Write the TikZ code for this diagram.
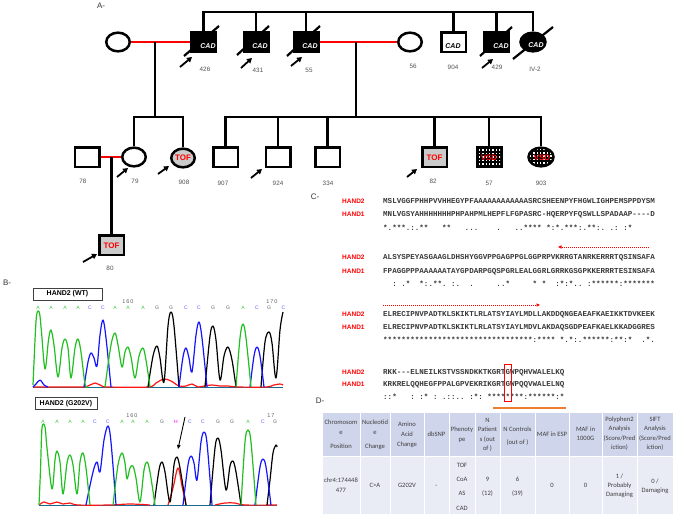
\documentclass[tikz,border=0pt]{standalone}
\usepackage{fontspec}
\setmainfont{Liberation Sans}
\newfontfamily\seqfont{Liberation Mono}
\newfontfamily\tabfont{Carlito}
\usetikzlibrary{shapes.geometric,arrows.meta,calc}
\definecolor{numgray}{HTML}{505050}
\definecolor{stipple}{HTML}{CBCBCB}
\definecolor{trG}{HTML}{20C020}
\definecolor{trB}{HTML}{1414FF}
\definecolor{trR}{HTML}{FF1414}
\definecolor{lA}{HTML}{3CC83C}
\definecolor{lC}{HTML}{5A5AFF}
\definecolor{lG}{HTML}{606060}
\definecolor{lH}{HTML}{FF00FF}
\definecolor{tabhead}{HTML}{CFD5EA}
\definecolor{tabbody}{HTML}{E9EBF5}
\definecolor{tabtext}{HTML}{404040}
\definecolor{orangebar}{HTML}{ED7D31}
\definecolor{seqtext}{HTML}{3A3A3A}
\begin{document}
\begin{tikzpicture}[x=1pt,y=-1pt,
  ped/.style={line width=2.5pt,draw=black},
  redline/.style={line width=2.5pt,draw=red},
  ind/.style={draw=black,line width=2.5pt,inner sep=0pt,fill=white},
  male/.style={ind,rectangle,minimum width=24.5pt,minimum height=19.5pt},
  female/.style={ind,ellipse,minimum width=23.5pt,minimum height=18.7pt},
  affected/.style={fill=black},
  tofill/.style={fill=stipple},
  numlab/.style={font=\fontsize{6.3}{7}\selectfont,text=numgray,inner sep=0pt},
  cadw/.style={font=\fontsize{7}{8}\selectfont\bfseries\itshape,text=white,inner sep=0pt},
  cadb/.style={cadw,text=black},
  redtxt/.style={font=\fontsize{8}{9}\selectfont\bfseries,text=red,inner sep=0pt},
  proband/.style={line width=1.8pt,-{Triangle[length=5pt,width=5.5pt]}},
  slash/.style={line width=2.2pt},
  panel/.style={font=\fontsize{8}{9}\selectfont,text=black!80,inner sep=0pt},
  trace/.style={line width=1.2pt,line join=round},
  baselet/.style={font=\fontsize{5}{6}\selectfont,inner sep=0pt},
  posnum/.style={font=\fontsize{5.5}{6}\selectfont,text=lG,inner sep=0pt},
  seqbox/.style={draw=black!75,line width=0.6pt,font=\fontsize{7}{8}\selectfont\bfseries,inner sep=0pt},
  hlab/.style={font=\fontsize{6.5}{7}\selectfont\bfseries,text=red,anchor=base west,inner sep=0pt},
  seq/.style={font=\seqfont\bfseries\fontsize{7.55}{9}\selectfont,text=seqtext,anchor=base west,inner sep=0pt},
  redarrow/.style={draw=red,line width=0.7pt,dash pattern=on 1.2pt off 0.8pt,-{Triangle[length=3.5pt,width=3.2pt]}},
  tt/.style={font=\tabfont\fontsize{6.6}{7}\selectfont,text=tabtext,inner sep=0pt,anchor=base}
]
\useasboundingbox (0,0) rectangle (675,517);
\fill[white] (0,0) rectangle (675,517);

% ---------------- panel letters
\node[panel] (lblA) at (101,6) {A-};
\node[panel] (lblB) at (7,283) {B-};
\node[panel] (lblC) at (315,197) {C-};
\node[panel] (lblD) at (320,401) {D-};

% ---------------- pedigree: individuals
\node[female] (f1) at (118,42) {};
\node[male,affected] (p426) at (203.5,42) {};
\node[male,affected] (p431) at (256,42) {};
\node[male,affected] (p55) at (306,42) {};
\node[female] (p56) at (410,42) {};
\node[male] (p904) at (453.5,42) {};
\node[male,affected] (p429) at (496.5,42) {};
\node[female,affected,minimum width=25pt] (pIV2) at (533,42) {};

\node[male] (p78) at (87,157) {};
\node[female] (p79) at (134,157) {};
\node[female,tofill] (p908) at (183,158) {};
\node[male] (p907) at (225.5,157) {};
\node[male] (p924) at (278,157) {};
\node[male] (p334) at (327.5,157) {};
\node[male,tofill] (p82) at (434.5,157) {};
\node[male,affected] (p57) at (489,157) {};
\node[female,affected,minimum width=25pt] (p903) at (541,157) {};
\node[male,tofill] (p80) at (111.5,245) {};

% VSD dots
\begin{scope}
\clip ($(p57.center)+(-11,-8.5)$) rectangle ($(p57.center)+(11,8.5)$);
\foreach \i in {0,...,6} \foreach \j in {0,...,4}
  \fill[white] ($(p57.center)+(-10.3+\i*3.4,-7.6+\j*3.4)$) rectangle +(1.5,1.5);
\end{scope}
\begin{scope}
\clip (p903.center) ellipse [x radius=11.2pt, y radius=8.1pt];
\foreach \i in {0,...,7} \foreach \j in {0,...,5}
  \fill[white] ($(p903.center)+(-11.3+\i*3.4,-8.4+\j*3.4)$) rectangle +(1.5,1.5);
\end{scope}

% ---------------- pedigree: lines
\coordinate (sibA) at (0,12);
\coordinate (sibB) at (0,117);
\coordinate (mA) at (155,42);
\coordinate (mB) at (356,42);
\draw[ped] (p426.north) |- (pIV2.north |- sibA) -- (pIV2.north);
\foreach \n in {p431,p55,p904,p429} \draw[ped] (\n.north) -- (\n.north |- sibA);
\draw[redline] (f1.east) -- (p426.west);
\draw[redline] (p55.east) -- (p56.west);
\draw[ped] (mA) -- (mA |- sibB);
\draw[ped] (p79.north) |- (p908.north |- sibB) -- (p908.north);
\draw[ped] (mB) -- (mB |- sibB);
\draw[ped] (p907.north) |- (p903.north |- sibB) -- (p903.north);
\foreach \n in {p924,p334,p82,p57} \draw[ped] (\n.north) -- (\n.north |- sibB);
\draw[redline] (p78.east) -- (p79.west);
\draw[ped] (p80.north |- p78.east) -- (p80.north);

% deceased slashes
\draw[slash] ($(p426.center)+(-19.5,14)$) -- ($(p426.center)+(15.5,-16)$);
\draw[slash] ($(p431.center)+(-19,13)$) -- ($(p431.center)+(13,-16)$);
\draw[slash] ($(p55.center)+(-19,14)$) -- ($(p55.center)+(14,-16)$);
\draw[slash] ($(p429.center)+(-16.5,14)$) -- ($(p429.center)+(15.5,-15)$);
\draw[slash] ($(pIV2.center)+(-20,17)$) -- ($(pIV2.center)+(20,-15)$);

% texts inside symbols
\node[cadw] (c426) at (208,46.5) {CAD};
\node[cadw] (c431) at (260,46) {CAD};
\node[cadw] (c55) at (310,46) {CAD};
\node[cadb] (c904) at (453,46) {CAD};
\node[cadw] (c429) at (501,46) {CAD};
\node[cadw] (cIV2) at (536,45) {CAD};
\node[redtxt] (t908) at (183,158) {TOF};
\node[redtxt] (t80) at (111.5,246) {TOF};
\node[redtxt] (t82) at (434.5,158) {TOF};
\node[redtxt] (v57) at (489,158) {VSD};
\node[redtxt] (v903) at (542,158) {VSD};

% proband arrows
\draw[proband] ($(p426.center)+(-23.5,25)$) -- ($(p426.center)+(-11.5,15)$);
\draw[proband] ($(p431.center)+(-15,26)$) -- ($(p431.center)+(-4,16)$);
\draw[proband] ($(p55.center)+(-15,24)$) -- ($(p55.center)+(-4,15)$);
\draw[proband] ($(p429.center)+(-14.5,26)$) -- ($(p429.center)+(-3.5,17)$);
\draw[proband] ($(p79.center)+(-17,20)$) -- ($(p79.center)+(-6,11)$);
\draw[proband] ($(p908.center)+(-25,16)$) -- ($(p908.center)+(-14,8)$);
\draw[proband] ($(p924.center)+(-27,21)$) -- ($(p924.center)+(-16,12)$);
\draw[proband] ($(p82.center)+(-27.5,20)$) -- ($(p82.center)+(-17.5,12)$);
\draw[proband] ($(p80.center)+(-28.5,17)$) -- ($(p80.center)+(-14.5,9)$);

% ID numbers
\node[numlab] (n426) at (205,69) {426};
\node[numlab] (n431) at (258,70) {431};
\node[numlab] (n55) at (309,70) {55};
\node[numlab] (n56) at (413,66) {56};
\node[numlab] (n904) at (453,67) {904};
\node[numlab] (n429) at (497,67) {429};
\node[numlab] (nIV2) at (535,69) {IV-2};
\node[numlab] (n78) at (83,181) {78};
\node[numlab] (n79) at (135,181) {79};
\node[numlab] (n908) at (184,182) {908};
\node[numlab] (n907) at (223,183) {907};
\node[numlab] (n924) at (278,183) {924};
\node[numlab] (n334) at (328,183) {334};
\node[numlab] (n82) at (433,181) {82};
\node[numlab] (n57) at (489,183) {57};
\node[numlab] (n903) at (541,183) {903};
\node[numlab] (n80) at (110,268) {80};

% ---------------- panel B: WT chromatogram
\node[seqbox,minimum width=69pt,minimum height=12pt] (boxWT) at (67.5,294) {HAND2 (WT)};
\begin{scope}
\clip (30,298) rectangle (284.5,314);
\foreach \xx/\ll/\cc [count=\i] in {38/A/lA,51/A/lA,65/A/lA,78/A/lA,90/C/lC,103/C/lC,115/A/lA,128/A/lA,143/A/lA,157/G/lG,171/G/lG,186/C/lC,199/C/lC,213/G/lG,228/G/lG,243/A/lA,257/C/lC,269/G/lG,283.5/C/lC}
  \node[baselet,text=\cc] (wtl\i) at (\xx,308) {\ll};
\end{scope}
\node[posnum] (wt160) at (128,302) {1\,6\,0};
\node[posnum] (wt170) at (272,302) {1\,7\,0};
\draw[trB!50!trG,line width=0.8pt] (33,387) -- (283,387);
\draw[trace,trR] plot[smooth,tension=0.55] coordinates {(33,387) (80,387) (88,386) (95,383) (102,386) (108,387) (148,387) (156,383) (164,379) (171,381) (179,386) (186,386) (192,384) (198,387) (204,386) (212,385) (220,386) (228,386) (238,387) (266,387) (274,385) (280,384) (283,385)};
\draw[trace,black] plot[smooth,tension=0.55] coordinates {(148,387) (153,356) (157,346) (160,358) (164,382) (168,326) (171,312) (174,326) (179,387)};
\draw[trace,black] plot[smooth,tension=0.55] coordinates {(205,387) (210,336) (213,326) (216,340) (220,380) (224,356) (228,347) (232,360) (236,387)};
\draw[trace,black] plot[smooth,tension=0.55] coordinates {(261,387) (265,342) (269,332) (272,343) (276,378) (280,330) (283,312)};
\draw[trace,trB] plot[smooth,tension=0.55] coordinates {(33,387) (36,384) (40,380) (44,385) (48,387)};
\draw[trace,trB] plot[smooth,tension=0.55] coordinates {(84,387) (88,362) (91,353) (94,358) (97,366) (100,335) (103,320) (106,338) (111,387)};
\draw[trace,trB] plot[smooth,tension=0.55] coordinates {(179,387) (183,357) (186,348) (189,358) (192,372) (196,335) (199,322) (202,338) (207,387)};
\draw[trace,trB] plot[smooth,tension=0.55] coordinates {(250,387) (254,356) (257,347) (260,356) (264,387)};
\draw[trace,trG] plot[smooth,tension=0.55] coordinates {(33,385) (35.5,330) (37,313) (39.5,313) (41.5,332) (45,369) (48.5,340) (51,330) (54,345) (58,377) (62,348) (65,339) (68,348) (71,378) (75,348) (78,339) (81,352) (85,384) (88,387)};
\draw[trace,trG] plot[smooth,tension=0.55] coordinates {(105,387) (111,345) (115,333) (118,345) (122,367) (125,352) (128,347) (131,357) (135,378) (139,356) (143,348) (146,360) (150,387)};
\draw[trace,trG] plot[smooth,tension=0.55] coordinates {(236,387) (240,338) (243,324) (246,338) (251,387)};

% ---------------- panel B: mutant chromatogram
\node[seqbox,minimum width=62pt,minimum height=12.5pt] (boxMT) at (66,403.5) {HAND2 (G202V)};
\foreach \xx/\ll/\cc [count=\i] in {43/A/lA,57/A/lA,70/A/lA,83/A/lA,95/C/lC,108/C/lC,122/A/lA,133/A/lA,147/A/lA,162/G/lG,176/H/lH,190/C/lC,203/C/lC,218/G/lG,232/G/lG,248/A/lA,263/C/lC,275/G/lG}
  \node[baselet,text=\cc] (mtl\i) at (\xx,422) {\ll};
\node[posnum] (mt160) at (132,416) {1\,6\,0};
\node[posnum] (mt170) at (271,416) {1\,7};
\draw[trB!50!trG,line width=0.8pt] (39,505) -- (277,505);
\draw[trace,trR] plot[smooth,tension=0.55] coordinates {(39,505) (44,502) (50,504) (57,502) (63,504) (70,503) (78,505) (110,505) (130,504) (150,505)};
\draw[trace,trR] plot[smooth,tension=0.55] coordinates {(168,505) (173,488) (178,468) (182,486) (186,505)};
\draw[trace,trR] plot[smooth,tension=0.55] coordinates {(215,505) (225,503) (235,503) (245,505) (277,505)};
\draw[trace,black] plot[smooth,tension=0.55] coordinates {(154,505) (159,470) (162,462) (165,472) (170,502) (174,465) (177,457) (180,468) (186,505)};
\draw[trace,black] plot[smooth,tension=0.55] coordinates {(210,505) (215,448) (218,438) (221,450) (226,490) (230,466) (233,461) (236,472) (241,505)};
\draw[trace,black] plot[smooth,tension=0.55] coordinates {(267,505) (270,480) (273,453) (276,445) (277,447)};
\draw[trace,trB] plot[smooth,tension=0.55] coordinates {(86,505) (93,472) (97,462) (100,472) (104,440) (108,426) (111,442) (116,505)};
\draw[trace,trB] plot[smooth,tension=0.55] coordinates {(183,505) (188,465) (191,456) (194,463) (197,480) (201,442) (204,432) (207,443) (212,505)};
\draw[trace,trB] plot[smooth,tension=0.55] coordinates {(255,505) (260,467) (263,459) (266,467) (271,505)};
\draw[trace,trG] plot[smooth,tension=0.55] coordinates {(39,505) (40.5,470) (42,428) (45,427) (47,448) (52,489) (55,460) (57,451) (60,462) (63,494) (67,463) (70,455) (73,465) (77,494) (80,462) (83,453) (86,468) (90,505)};
\draw[trace,trG] plot[smooth,tension=0.55] coordinates {(113,505) (118,465) (122,453) (125,463) (127,479) (130,468) (133,466) (136,478) (140,502) (144,470) (147,462) (150,472) (155,505)};
\draw[trace,trG] plot[smooth,tension=0.55] coordinates {(241,505) (245,442) (248,430) (251,442) (256,505)};
\coordinate (mutA) at (185,417);
\coordinate (mutB) at (178,449);
\draw[line width=0.9pt,-{Triangle[length=4pt,width=3.5pt]}] (mutA) -- (mutB);

% ---------------- panel C: alignment
\node[hlab] (h2a) at (342,203.5) {HAND2};
\node[hlab] (h1a) at (342,216.5) {HAND1};
\node[seq] (s2a) at (383,203.5) {MSLVGGFPHHPVVHHEGYPFAAAAAAAAAAAASRCSHEENPYFHGWLIGHPEMSPPDYSM};
\node[seq] (s1a) at (383,216.5) {MNLVGSYAHHHHHHHPHPAHPMLHEPFLFGPASRC-HQERPYFQSWLLSPADAAP-\kern0pt-\kern0pt-\kern0pt-D};
\node[seq] (sca) at (383,230.5) {*.***.:.**~~~**~~~...~~~~.~~~..****~*:*.***:.**:.~.:~:*};

\coordinate (arA1) at (649,247);
\coordinate (arA2) at (558,247);
\draw[redarrow] (arA1) -- (arA2);
\node[hlab] (h2b) at (342,259.5) {HAND2};
\node[hlab] (h1b) at (342,273.5) {HAND1};
\node[seq] (s2b) at (383,259.5) {ALSYSPEYASGAAGLDHSHYGGVPPGAGPPGLGGPRPVKRRGTANRKERRRTQSINSAFA};
\node[seq] (s1b) at (383,273.5) {FPAGGPPPAAAAAATAYGPDARPGQSPGRLEALGGRLGRRKGSGPKKERRRTESINSAFA};
\node[seq] (scb) at (383,286.5) {~~:~.*~~*:.**.~:.~~.~~~~~..*~~~~~*~*~~:*:*..~:******:*******};

\coordinate (arB1) at (383,305);
\coordinate (arB2) at (540,305);
\draw[redarrow] (arB1) -- (arB2);
\node[hlab] (h2c) at (342,316.5) {HAND2};
\node[hlab] (h1c) at (342,329) {HAND1};
\node[seq] (s2c) at (383,316.5) {ELRECIPNVPADTKLSKIKTLRLATSYIAYLMDLLAKDDQNGEAEAFKAEIKKTDVKEEK};
\node[seq] (s1c) at (383,329) {ELRECIPNVPADTKLSKIKTLRLATSYIAYLMDVLAKDAQSGDPEAFKAELKKADGGRES};
\node[seq] (scc) at (383,342.5) {*********************************:****~*.*:.******:**:*~~.*.};

\node[hlab] (h2d) at (342,374.5) {HAND2};
\node[hlab] (h1d) at (342,386.5) {HAND1};
\node[seq] (s2d) at (383,374.5) {RKK-\kern0pt-\kern0pt-ELNEILKSTVSSNDKKTKGRTGWPQHVWALELKQ};
\node[seq] (s1d) at (383,386.5) {KRKRELQQHEGFPPALGPVEKRIKGRTGWPQQVWALELNQ};
\node[seq] (scd) at (383,399.5) {::*~~~:~:*~:~.::..~:*:~********:******:*};
\draw[red,line width=0.8pt] (504,364) rectangle (511,401);
\coordinate (orA) at (493,408);
\coordinate (orB) at (566,408);
\draw[orangebar,line width=2.3pt] (orA) -- (orB);

% ---------------- panel D: table
\fill[tabhead] (322,412) rectangle (673,456);
\fill[tabbody] (322,456) rectangle (673,514);
\foreach \xx in {322,360,390,424,449,475,500,535,569,602,637,673}
  \draw[white,line width=1pt] (\xx,412) -- (\xx,514);
\draw[white,line width=1pt] (322,456) -- (673,456);
\draw[white,line width=1pt] (322,412) -- (673,412);
\draw[white,line width=1pt] (322,514) -- (673,514);

\node[tt] (hA1) at (341,424.3) {Chromosom};
\node[tt] (hA2) at (341,434.7) {e};
\node[tt] (hA3) at (341,448.7) {Position};
\node[tt] (hB1) at (375,424.3) {Nucleotid};
\node[tt] (hB2) at (375,434.7) {e};
\node[tt] (hB3) at (375,448.7) {Change};
\node[tt] (hC1) at (407,426.3) {Amino};
\node[tt] (hC2) at (407,436.3) {Acid};
\node[tt] (hC3) at (407,446.3) {Change};
\node[tt] (hD1) at (436.5,436.3) {dbSNP};
\node[tt] (hE1) at (462,431.7) {Phenoty};
\node[tt] (hE2) at (462,441) {pe};
\node[tt] (hF1) at (487.5,422) {N};
\node[tt] (hF2) at (487.5,431.7) {Patient};
\node[tt] (hF3) at (487.5,441) {s (out};
\node[tt] (hF4) at (487.5,450.3) {of )};
\node[tt] (hG1) at (517.5,431.7) {N Controls};
\node[tt] (hG2) at (517.5,444.7) {(out of )};
\node[tt] (hH1) at (552,436.3) {MAF in ESP};
\node[tt] (hI1) at (585.5,431.7) {MAF in};
\node[tt] (hI2) at (585.5,440.3) {1000G};
\node[tt] (hJ1) at (619.5,421) {Polyphen2};
\node[tt] (hJ2) at (619.5,430.3) {Analysis};
\node[tt] (hJ3) at (619.5,440.3) {(Score/Pred};
\node[tt] (hJ4) at (619.5,449.7) {iction)};
\node[tt] (hK1) at (655,421) {SIFT};
\node[tt] (hK2) at (655,430.3) {Analysis};
\node[tt] (hK3) at (655,440.3) {(Score/Pred};
\node[tt] (hK4) at (655,449.7) {iction)};

\node[tt] (dA1) at (341,482) {chr4:174448};
\node[tt] (dA2) at (341,492) {477};
\node[tt] (dB1) at (375,487) {C>A};
\node[tt] (dC1) at (407,487) {G202V};
\node[tt] (dD1) at (436.5,487) {-};
\node[tt] (dE1) at (462,467) {TOF};
\node[tt] (dE2) at (462,481) {CoA};
\node[tt] (dE3) at (462,495.3) {AS};
\node[tt] (dE4) at (462,510.3) {CAD};
\node[tt] (dF1) at (487.5,481) {9};
\node[tt] (dF2) at (487.5,495.3) {(12)};
\node[tt] (dG1) at (517.5,481) {6};
\node[tt] (dG2) at (517.5,495.3) {(39)};
\node[tt] (dH1) at (552,487) {0};
\node[tt] (dI1) at (585.5,487) {0};
\node[tt] (dJ1) at (619.5,478.7) {1 /};
\node[tt] (dJ2) at (619.5,487) {Probably};
\node[tt] (dJ3) at (619.5,496.3) {Damaging};
\node[tt] (dK1) at (655,483) {0 /};
\node[tt] (dK2) at (655,492) {Damaging};
\end{tikzpicture}
\end{document}
